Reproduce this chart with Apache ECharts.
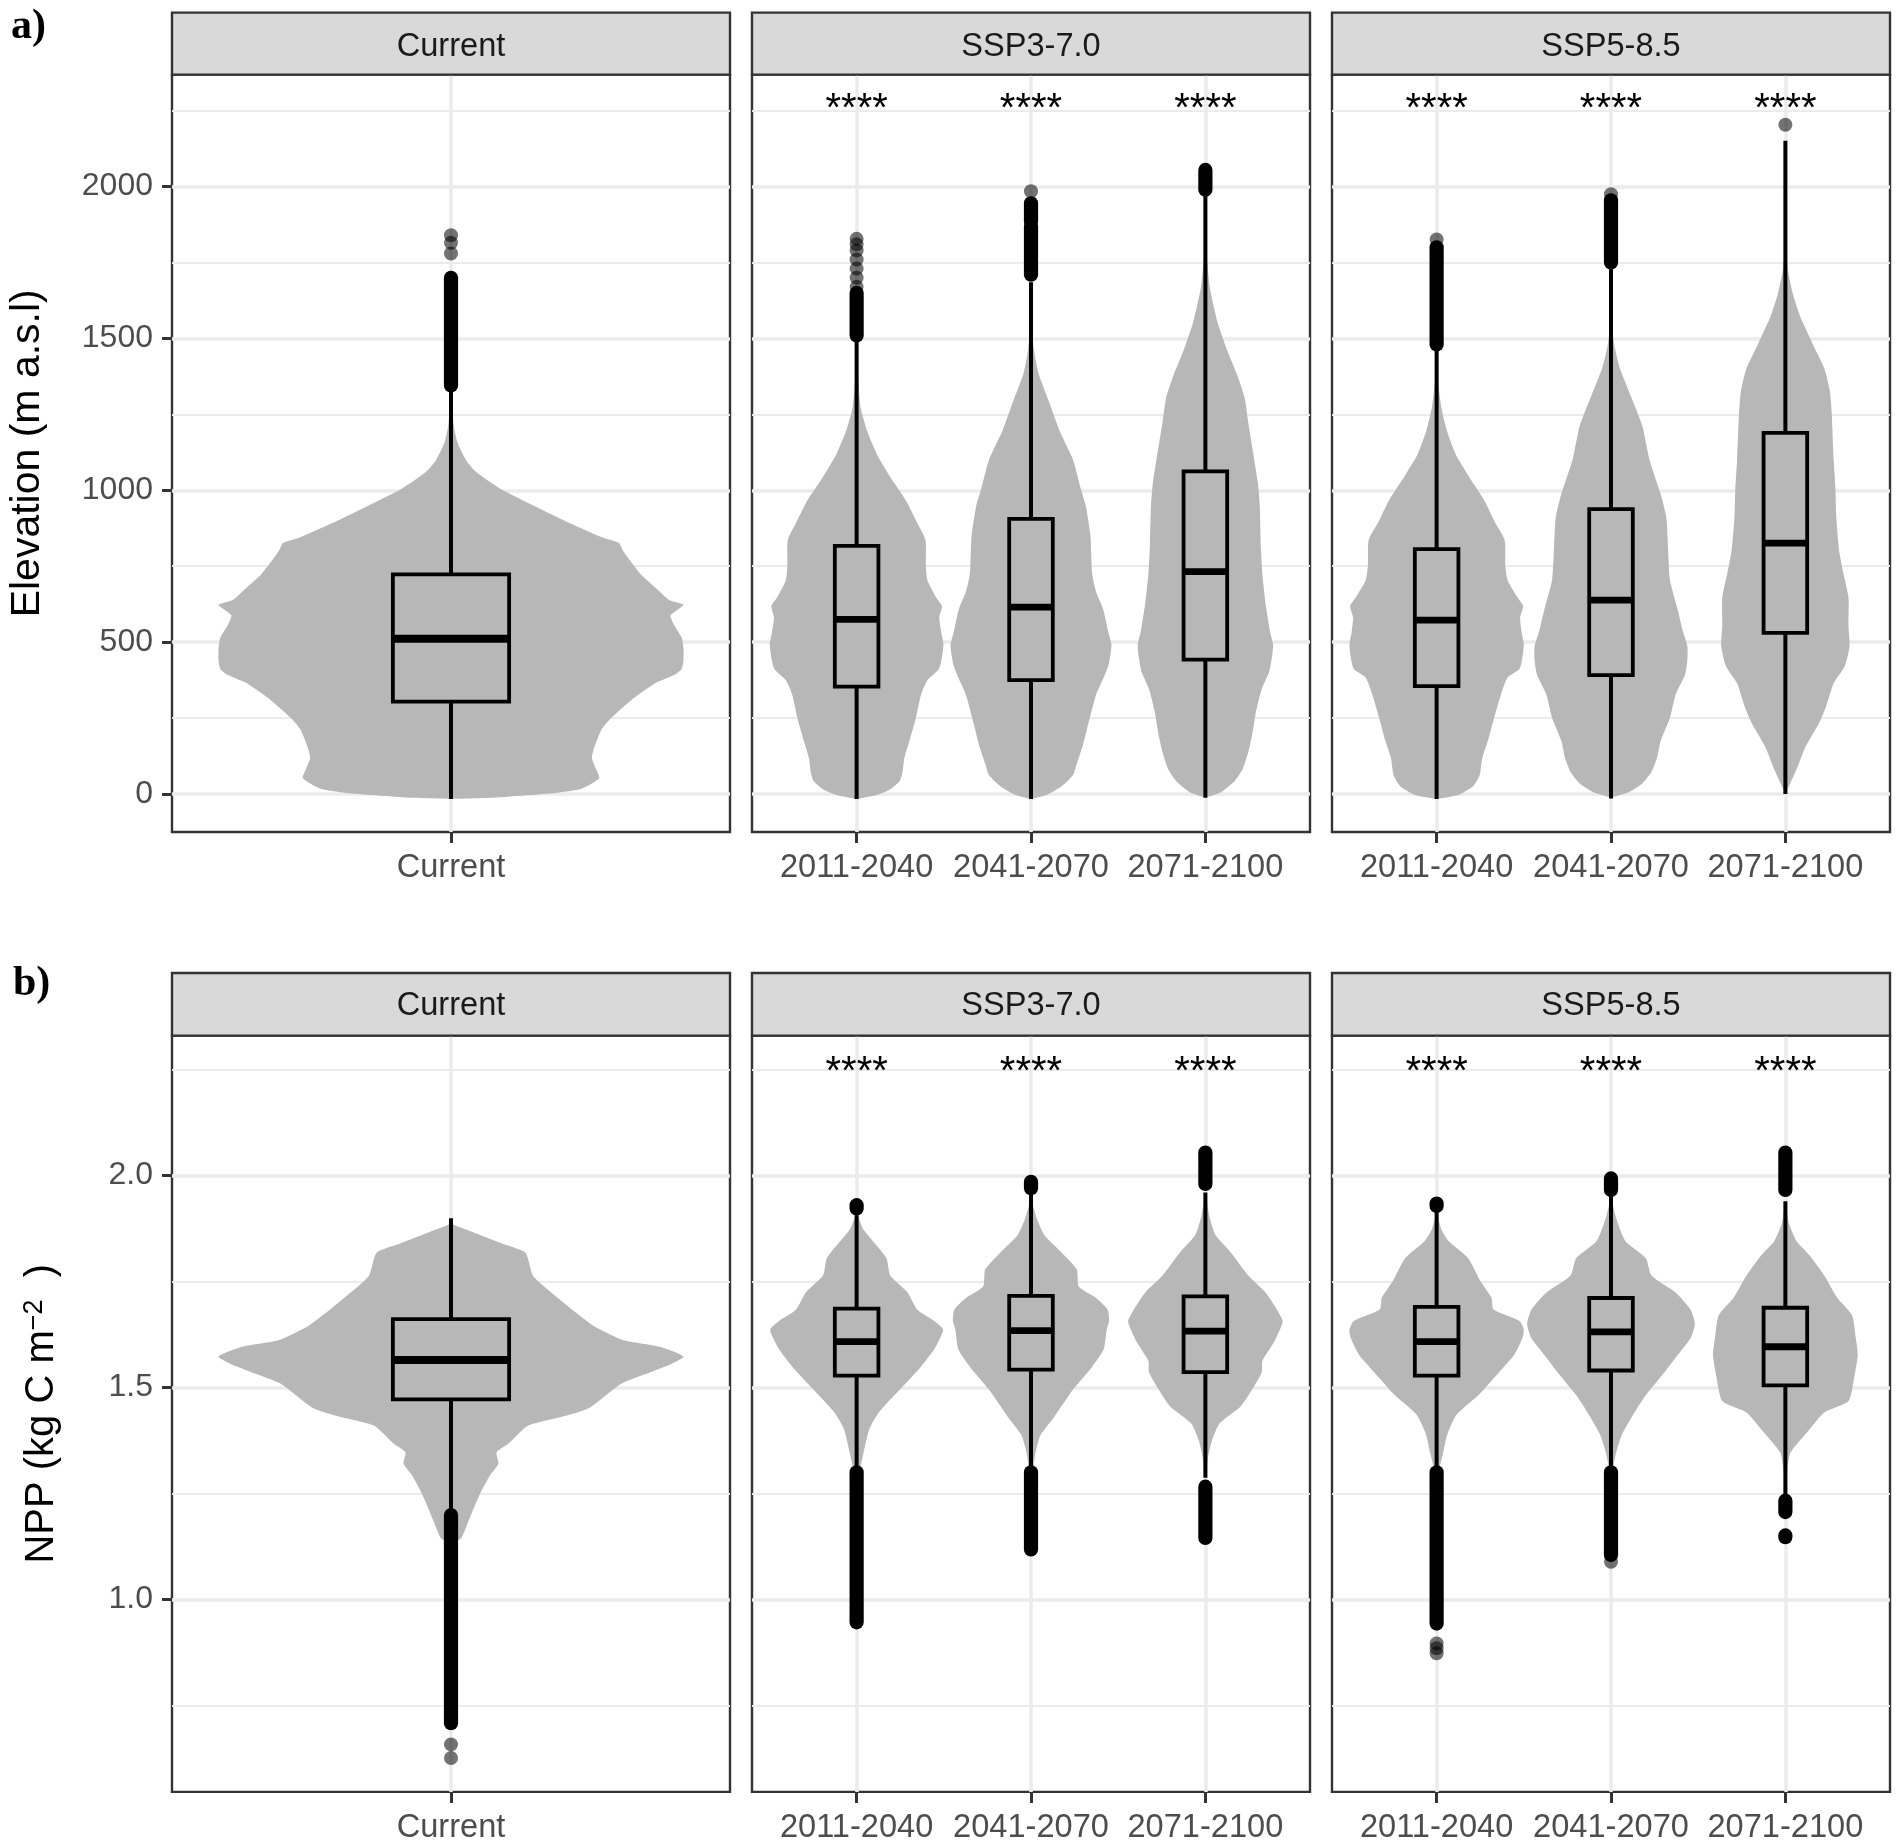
<!DOCTYPE html>
<html>
<head>
<meta charset="utf-8">
<script src="https://cdn.jsdelivr.net/npm/echarts@6/dist/echarts.min.js"></script>
<style>html,body{margin:0;padding:0;background:#fff}#chart{width:1902px;height:1845px}</style>
</head>
<body>
<div id="chart"></div>
<script>
var periods = ['2011-2040', '2041-2070', '2071-2100'];
var currentLabel = ['Current'];
var stripNames = ['Current', 'SSP3-7.0', 'SSP5-8.5'];

var elevTicks = [0, 500, 1000, 1500, 2000];
var elevMinor = [250, 750, 1250, 1750, 2250];
var nppTicks = [1.0, 1.5, 2.0];
var nppMinor = [0.75, 1.25, 1.75, 2.25];

// violin outlines: [value, half width in category units]
var elevCurrent = [[-17,0],[-13,.084],[2,.22],[15,.277],[34,.303],[53,.319],[81,.312],[119,.303],[157,.309],[213,.324],[251,.345],[308,.387],[364,.439],[392,.481],[411,.496],[440,.5],[477,.5],[515,.496],[553,.481],[587,.472],[600,.481],[623,.5],[638,.47],[666,.449],[723,.408],[798,.371],[826,.361],[845,.324],[902,.241],[949,.178],[1006,.105],[1062,.053],[1100,.032],[1157,.014],[1213,.006],[1289,.002],[1327,0]];
var elevSsp3a = [[-17,0],[-4,.116],[15,.193],[43,.248],[72,.263],[119,.274],[175,.303],[251,.34],[326,.369],[374,.406],[411,.472],[449,.489],[492,.498],[534,.485],[581,.474],[619,.489],[647,.456],[704,.406],[751,.397],[836,.395],[893,.347],[968,.281],[1044,.193],[1119,.116],[1194,.061],[1270,.024],[1345,.011],[1421,.003],[1496,0]];
var elevSsp3b = [[-17,0],[-4,.088],[25,.176],[62,.241],[100,.263],[157,.296],[232,.329],[326,.373],[383,.417],[421,.443],[459,.456],[492,.461],[534,.443],[610,.413],[666,.373],[723,.351],[798,.345],[855,.34],[949,.314],[1006,.285],[1100,.241],[1194,.165],[1289,.105],[1383,.044],[1459,.018],[1534,.004],[1600,0]];
var elevSsp3c = [[-13,0],[6,.092],[43,.169],[81,.213],[138,.246],[194,.268],[270,.29],[345,.323],[402,.366],[459,.384],[492,.388],[534,.371],[628,.345],[723,.327],[817,.318],[949,.312],[1025,.301],[1223,.246],[1308,.224],[1383,.18],[1478,.114],[1553,.07],[1666,.026],[1761,.009],[1836,.002],[1900,0]];
var elevSsp5a = [[-17,0],[-4,.123],[25,.209],[62,.247],[119,.262],[175,.294],[251,.33],[326,.368],[383,.407],[411,.475],[449,.492],[492,.5],[534,.487],[581,.479],[619,.496],[647,.464],[704,.407],[751,.394],[836,.39],[893,.336],[968,.272],[1044,.187],[1119,.109],[1194,.06],[1270,.028],[1345,.011],[1421,.002],[1468,0]];
var elevSsp5b = [[-13,0],[6,.104],[34,.179],[72,.232],[119,.264],[175,.285],[251,.338],[326,.37],[392,.424],[440,.438],[487,.438],[534,.413],[610,.381],[704,.338],[798,.328],[911,.317],[987,.285],[1100,.221],[1213,.179],[1308,.115],[1402,.051],[1478,.019],[1553,.004],[1620,0]];
var elevSsp5c = [[0,0],[81,.064],[157,.117],[232,.192],[289,.234],[364,.277],[421,.341],[487,.368],[553,.362],[647,.362],[723,.334],[798,.309],[911,.292],[1006,.287],[1100,.277],[1251,.266],[1327,.255],[1402,.223],[1478,.16],[1572,.085],[1647,.043],[1723,.015],[1779,.006],[1855,.001],[1900,0]];

var nppCurrent = [[1.132,0],[1.145,.022],[1.186,.038],[1.213,.048],[1.253,.064],[1.293,.084],[1.32,.102],[1.347,.098],[1.368,.124],[1.41,.166],[1.431,.239],[1.451,.296],[1.509,.366],[1.536,.429],[1.556,.475],[1.573,.5],[1.596,.449],[1.612,.369],[1.643,.31],[1.684,.26],[1.711,.23],[1.738,.2],[1.764,.176],[1.818,.16],[1.838,.114],[1.865,.05],[1.886,0]];
var nppSsp3a = [[1.3,0],[1.307,.018],[1.347,.04],[1.401,.072],[1.441,.127],[1.495,.248],[1.549,.369],[1.59,.445],[1.616,.478],[1.637,.496],[1.657,.445],[1.684,.347],[1.724,.292],[1.764,.193],[1.805,.171],[1.845,.094],[1.872,.04],[1.906,.004]];
var nppSsp3b = [[1.3,0],[1.307,.011],[1.347,.026],[1.388,.055],[1.43,.132],[1.495,.241],[1.549,.351],[1.59,.417],[1.637,.434],[1.657,.448],[1.684,.439],[1.711,.373],[1.738,.274],[1.778,.263],[1.818,.176],[1.859,.077],[1.899,.033],[1.939,.004]];
var nppSsp3c = [[1.285,0],[1.293,.004],[1.334,.015],[1.374,.037],[1.415,.081],[1.455,.202],[1.495,.268],[1.536,.323],[1.563,.327],[1.603,.388],[1.637,.428],[1.657,.443],[1.684,.41],[1.724,.345],[1.764,.246],[1.818,.147],[1.859,.059],[1.899,.026],[1.946,.004]];
var nppSsp5a = [[1.3,0],[1.307,.013],[1.347,.038],[1.388,.06],[1.435,.113],[1.482,.24],[1.536,.358],[1.576,.443],[1.616,.492],[1.637,.5],[1.657,.475],[1.684,.326],[1.711,.315],[1.751,.251],[1.805,.181],[1.845,.07],[1.872,.028],[1.906,.004]];
var nppSsp5b = [[1.3,0],[1.307,.009],[1.347,.03],[1.388,.062],[1.435,.126],[1.482,.2],[1.536,.307],[1.576,.381],[1.616,.456],[1.65,.481],[1.684,.456],[1.724,.37],[1.764,.232],[1.805,.2],[1.845,.083],[1.899,.03],[1.946,.002]];
var nppSsp5c = [[1.24,0],[1.307,.011],[1.347,.03],[1.401,.138],[1.441,.223],[1.468,.362],[1.522,.394],[1.576,.415],[1.616,.404],[1.67,.383],[1.711,.298],[1.764,.223],[1.812,.138],[1.845,.064],[1.886,.021],[1.933,.002]];

// box stats: [whisker low, q1, median, q3, whisker high]
var elevBoxes = [[-17,304,511,723,1330],[-17,353,575,817,1500],[-17,375,615,906,1685],[-13,442,732,1062,1978],[-17,355,572,806,1468],[-15,391,638,938,1742],[0,530,826,1189,2151]];
var nppBoxes = [[1.199,1.472,1.565,1.661,1.899],[1.3,1.528,1.608,1.686,1.906],[1.3,1.542,1.634,1.716,1.956],[1.287,1.536,1.633,1.715,1.96],[1.3,1.528,1.608,1.69,1.919],[1.3,1.54,1.631,1.711,1.953],[1.24,1.505,1.596,1.688,1.939]];

// dense outlier stretches [from, to] and isolated outliers
var elevRuns = [[[1345,1700]],[[1510,1650]],[[1710,1870],[1885,1945]],[[1990,2055]],[[1480,1800]],[[1750,1955]],[]];
var elevDots = [[1780,1815,1840],[1670,1700,1730,1760,1790,1810,1828],[1985],[],[1826],[1975],[2204]];
var nppRuns = [[[.708,1.199]],[[.946,1.3],[1.922,1.93]],[[1.118,1.3],[1.97,1.985]],[[1.145,1.266],[1.98,2.054]],[[.943,1.3],[1.928,1.934]],[[1.105,1.3],[1.966,1.993]],[[1.206,1.233],[1.966,2.054],[1.147,1.151]]];
var nppDots = [[.658,.626],[],[],[],[.896,.885,.873],[1.089],[]];

var elevProfiles = [elevCurrent, elevSsp3a, elevSsp3b, elevSsp3c, elevSsp5a, elevSsp5b, elevSsp5c];
var nppProfiles = [nppCurrent, nppSsp3a, nppSsp3b, nppSsp3c, nppSsp5a, nppSsp5b, nppSsp5c];

var colLeft = [172, 752, 1332], colWidth = 558;
var rows = [
  {top: 74.6, height: 757.4, stripTop: 12.6, stripDy: 3, min: -125.5, max: 2369, ticks: elevTicks, minor: elevMinor, starY: 2252, nameGap: 124,
    profiles: elevProfiles, boxes: elevBoxes, runs: elevRuns, dots: elevDots, fmt: function (v) { return String(v); }},
  {top: 1035.6, height: 756.3, stripTop: 973, stripDy: 2, min: 0.546, max: 2.33, ticks: nppTicks, minor: nppMinor, starY: 2.242, nameGap: 110,
    profiles: nppProfiles, boxes: nppBoxes, runs: nppRuns, dots: nppDots, fmt: function (v) { return v.toFixed(1); }}
];

var font = 'Liberation Sans';
var grids = [], xAxes = [], yAxes = [], series = [], graphics = [];

function violinItem(profile, box, runs, pos, medianWidth) {
  return function (params, api) {
    var left = [], right = [];
    profile.forEach(function (p) {
      left.push(api.coord([pos - p[1], p[0]]));
      right.unshift(api.coord([pos + p[1], p[0]]));
    });
    var low = api.coord([pos, box[0]]), q1 = api.coord([pos - 0.125, box[1]]), q3 = api.coord([pos + 0.125, box[3]]);
    var medL = api.coord([pos - 0.125, box[2]]), medR = api.coord([pos + 0.125, box[2]]), high = api.coord([pos, box[4]]);
    var kids = [
      {type: 'polygon', shape: {points: left.concat(right), smooth: 0.2}, style: {fill: '#b7b7b7'}},
      {type: 'line', shape: {x1: low[0], y1: low[1], x2: high[0], y2: high[1]}, style: {stroke: '#000', lineWidth: 4}},
      {type: 'rect', shape: {x: q1[0], y: q3[1], width: q3[0] - q1[0], height: q1[1] - q3[1]}, style: {stroke: '#000', lineWidth: 3.8, fill: '#b7b7b7'}},
      {type: 'line', shape: {x1: medL[0], y1: medL[1], x2: medR[0], y2: medR[1]}, style: {stroke: '#000', lineWidth: medianWidth}}
    ];
    runs.forEach(function (r) {
      var a = api.coord([pos, r[0]]), b = api.coord([pos, r[1]]);
      kids.push({type: 'line', shape: {x1: a[0], y1: a[1], x2: b[0], y2: b[1]}, style: {stroke: '#000', lineWidth: 14.2, lineCap: 'round'}});
    });
    return {type: 'group', children: kids};
  };
}

function starItem(params, api) {
  var c = api.coord([api.value(0), api.value(1)]);
  return {type: 'text', style: {text: '****', x: c[0], y: c[1], align: 'center', verticalAlign: 'middle', font: '40px "Liberation Sans"', fill: '#000'}};
}

var violinIndex;
rows.forEach(function (row, r) {
  violinIndex = 0;
  stripNames.forEach(function (strip, c) {
    var cats = c === 0 ? currentLabel : periods;
    var g = grids.length;
    grids.push({left: colLeft[c], top: row.top, width: colWidth, height: row.height, show: true,
      backgroundColor: '#fff', borderColor: '#333', borderWidth: 2.4, containLabel: false});
    var positions = cats.map(function (d, i) { return i + 1; });
    xAxes.push({gridIndex: g, type: 'value', min: 0.4, max: cats.length + 0.6,
      axisLine: {show: false, onZero: false},
      axisTick: {show: true, length: 11, customValues: positions, lineStyle: {color: '#333', width: 3}},
      axisLabel: {show: true, customValues: positions, margin: 20, fontFamily: font, fontSize: 32.6, color: '#4d4d4d',
        formatter: function (v) { return cats[Math.round(v) - 1]; }},
      splitLine: {show: true, lineStyle: {color: '#ebebeb', width: 3.5}}});
    var y0 = yAxes.length;
    var yName = '';
    if (c === 0) yName = r === 0 ? 'Elevation (m a.s.l)' : '{b|NPP (kg C m}{s|\u22122}{b|  )}';
    yAxes.push({gridIndex: g, type: 'value', min: row.min, max: row.max, position: 'left',
      name: yName, nameLocation: 'middle', nameRotate: 90, nameGap: row.nameGap,
      nameTextStyle: {fontFamily: font, fontSize: 41, color: '#000',
        rich: {b: {fontFamily: font, fontSize: 40, color: '#000'}, s: {fontFamily: font, fontSize: 27, color: '#000', verticalAlign: 'top', padding: [0, 0, 14, 0]}}},
      axisLine: {show: false, onZero: false},
      axisTick: {show: c === 0, length: 10, customValues: row.ticks, lineStyle: {color: '#333', width: 3}},
      axisLabel: {show: c === 0, customValues: row.ticks, margin: 19, fontFamily: font, fontSize: 32, color: '#4d4d4d', formatter: row.fmt,
        padding: [4, 0, 0, 0]},
      splitLine: {show: true, lineStyle: {color: '#ebebeb', width: 3.5}}});
    yAxes.push({gridIndex: g, type: 'value', min: row.min, max: row.max, position: 'left',
      axisLine: {show: false, onZero: false}, axisLabel: {show: false},
      axisTick: {show: false, customValues: row.minor},
      splitLine: {show: true, lineStyle: {color: '#ebebeb', width: 2}}});

    positions.forEach(function (pos) {
      var k = violinIndex++;
      series.push({type: 'custom', xAxisIndex: g, yAxisIndex: y0, z: 3, clip: false,
        data: [[pos, row.boxes[k][2]]],
        renderItem: violinItem(row.profiles[k], row.boxes[k], row.runs[k], pos, c === 0 ? 8 : 6.8)});
      series.push({type: 'scatter', xAxisIndex: g, yAxisIndex: y0, z: 4, symbolSize: 14,
        itemStyle: {color: '#000', opacity: 0.55},
        data: row.dots[k].map(function (v) { return [pos, v]; })});
    });
    if (c > 0) {
      series.push({type: 'custom', xAxisIndex: g, yAxisIndex: y0, z: 5, clip: false,
        data: positions.map(function (pos) { return [pos, row.starY]; }), renderItem: starItem});
    }

    graphics.push({type: 'rect', z: 10, shape: {x: colLeft[c], y: row.stripTop, width: colWidth, height: row.top - row.stripTop},
      style: {fill: '#d9d9d9', stroke: '#333', lineWidth: 2.4}});
    graphics.push({type: 'text', z: 11, x: colLeft[c] + colWidth / 2, y: row.stripTop + (row.top - row.stripTop) / 2 + row.stripDy,
      style: {text: strip, align: 'center', verticalAlign: 'middle', font: '32.6px "Liberation Sans"', fill: '#1a1a1a'}});
  });
});

graphics.push({type: 'text', z: 11, x: 11, y: 27, style: {text: 'a)', verticalAlign: 'middle', font: 'bold 42px "Liberation Serif"', fill: '#000'}});
graphics.push({type: 'text', z: 11, x: 13, y: 984, style: {text: 'b)', verticalAlign: 'middle', font: 'bold 42px "Liberation Serif"', fill: '#000'}});

var myChart = echarts.init(document.getElementById('chart'));
var option = {
  animation: false,
  backgroundColor: '#fff',
  grid: grids,
  xAxis: xAxes,
  yAxis: yAxes,
  series: series,
  graphic: {elements: graphics}
};
myChart.setOption(option);
</script>
</body>
</html>
